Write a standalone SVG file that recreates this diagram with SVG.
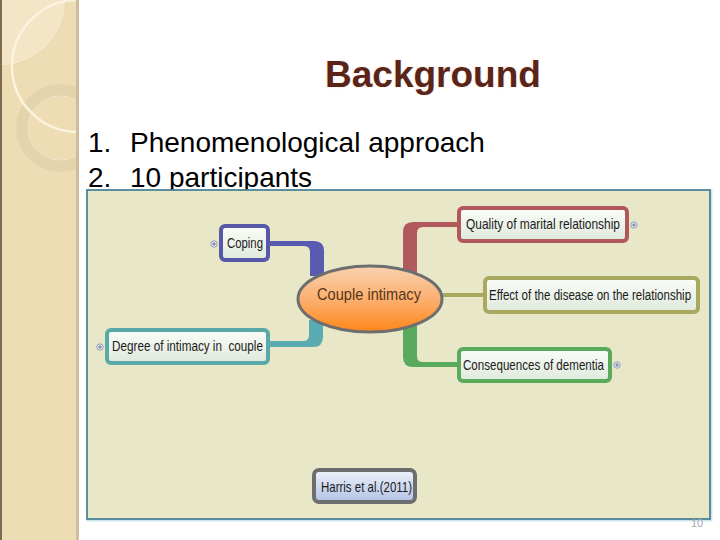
<svg xmlns="http://www.w3.org/2000/svg" width="720" height="540" viewBox="0 0 720 540">
<defs>
<style>
.lbl{font-family:"Liberation Sans",Arial,sans-serif;font-size:14.5px;fill:#1c1c1c}
.box{stroke-width:4}
.list{font-family:"Liberation Sans",Arial,sans-serif;font-size:28px;fill:#000}
.plus{fill:#eef2f6;stroke:#7888a8;stroke-width:0.8}
.plusl{stroke:#506080;stroke-width:0.8}
</style>
<linearGradient id="nodeFill" x1="0" y1="0" x2="0" y2="1">
<stop offset="0" stop-color="#fbfdf8"/>
<stop offset="1" stop-color="#dfe9dc"/>
</linearGradient>
<linearGradient id="ellFill" x1="0" y1="0" x2="0" y2="1">
<stop offset="0" stop-color="#f8d2b0"/>
<stop offset="0.5" stop-color="#fbb070"/>
<stop offset="1" stop-color="#ff8618"/>
</linearGradient>
<linearGradient id="harrisFill" x1="0" y1="0" x2="0" y2="1">
<stop offset="0" stop-color="#eef2fa"/>
<stop offset="1" stop-color="#b2c2e6"/>
</linearGradient>
<pattern id="hatch" width="4" height="4" patternUnits="userSpaceOnUse">
<path d="M0,4 L4,0 M0,0 L4,4" stroke="#d8c49a" stroke-width="0.5" opacity="0.35"/>
</pattern>
<clipPath id="stripClip"><rect x="0" y="0" width="77" height="540"/></clipPath>
</defs>

<rect x="0" y="0" width="720" height="540" fill="#ffffff"/>

<!-- decorative left strip -->
<g id="strip">
<rect x="0" y="0" width="78" height="540" fill="#f0dfb6"/>
<rect x="0" y="0" width="78" height="540" fill="url(#hatch)"/>
<g clip-path="url(#stripClip)">
<circle cx="0" cy="0" r="66" fill="#f3e5c6" stroke="#e0d0aa" stroke-width="0.6"/>
<circle cx="60" cy="128" r="38" fill="none" stroke="#e4d4ae" stroke-width="12"/>
<circle cx="60" cy="128" r="32" fill="none" stroke="#efe3c6" stroke-width="1"/>
<circle cx="78" cy="66" r="66" fill="none" stroke="#fbf3e0" stroke-width="2.5"/>
</g>
<rect x="0" y="0" width="2" height="540" fill="#7d6c52"/>
<rect x="76" y="0" width="3" height="540" fill="#cdbd9c"/>
</g>

<!-- title and list -->
<text x="325" y="87" font-family="'Liberation Sans',Arial,sans-serif" font-size="37" font-weight="bold" fill="#5a2418" stroke="#f8e6da" stroke-width="2.5" stroke-opacity="0.4" paint-order="stroke">Background</text>
<text class="list" x="88" y="152">1.</text>
<text class="list" x="130" y="152">Phenomenological approach</text>
<text class="list" x="88" y="187">2.</text>
<text class="list" x="130" y="187">10 participants</text>

<!-- picture panel -->
<rect x="88" y="191" width="623" height="329" fill="none" stroke="#cfe6ee" stroke-width="3"/>
<rect x="87" y="190" width="623" height="329" fill="#e8e8c8" stroke="#2f6f88" stroke-width="1.5"/>

<!-- connectors -->
<g id="connectors">
<path d="M268,241 L314,241 Q324,241 324,251 L324,276 L310,276 L310,252 Q310,246 304,246 L268,246 Z" fill="#5a5ab0"/>
<path d="M268,347 L313,347 Q323,347 323,337 L323,320 L309,320 L309,335 Q309,341 303,341 L268,341 Z" fill="#5aacb2"/>
<path d="M403,280 L403,232 Q403,222 413,222 L459,222 L459,227 L423,227 Q417,227 417,233 L417,280 Z" fill="#b05a5e"/>
<path d="M403,318 L403,357 Q403,367 413,367 L459,367 L459,362 L423,362 Q417,362 417,356 L417,318 Z" fill="#5aaa5e"/>
<line x1="438" y1="295" x2="485" y2="295" stroke="#a8a85e" stroke-width="4"/>
</g>

<!-- central node -->
<g id="node-center">
<ellipse cx="370" cy="299" rx="72" ry="33" fill="url(#ellFill)" stroke="#6e6e6e" stroke-width="3"/>
<text x="317" y="300" font-family="'Liberation Sans',Arial,sans-serif" font-size="17" fill="#5a3414" textLength="104" lengthAdjust="spacingAndGlyphs">Couple intimacy</text>
</g>

<g id="node-coping">
<rect class="box" x="221" y="226" width="47" height="34" rx="4" fill="url(#nodeFill)" stroke="#5858a8"/>
<text class="lbl" x="227" y="248" textLength="36" lengthAdjust="spacingAndGlyphs">Coping</text>
<circle class="plus" cx="214" cy="244" r="3.2"/>
<path class="plusl" d="M212,244 H216 M214,242 V246"/>
</g>

<g id="node-quality">
<rect class="box" x="459" y="208" width="168" height="33" rx="4" fill="url(#nodeFill)" stroke="#b0585c"/>
<text class="lbl" x="466" y="229" textLength="154" lengthAdjust="spacingAndGlyphs">Quality of marital relationship</text>
<circle class="plus" cx="634" cy="225" r="3.2"/>
<path class="plusl" d="M632,225 H636 M634,223 V227"/>
</g>

<g id="node-effect">
<rect class="box" x="485" y="278" width="213" height="34" rx="4" fill="url(#nodeFill)" stroke="#a8a85e"/>
<text class="lbl" transform="translate(489,300) scale(0.7956,1)" x="0" y="0" textLength="254" lengthAdjust="spacingAndGlyphs">Effect of the disease on the relationship</text>
</g>

<g id="node-consequences">
<rect class="box" x="459" y="349" width="151" height="32" rx="4" fill="url(#nodeFill)" stroke="#5aaa5e"/>
<text class="lbl" x="463" y="370" textLength="141" lengthAdjust="spacingAndGlyphs">Consequences of dementia</text>
<circle class="plus" cx="617" cy="365" r="3.2"/>
<path class="plusl" d="M615,365 H619 M617,363 V367"/>
</g>

<g id="node-degree">
<rect class="box" x="107" y="330" width="161" height="33" rx="4" fill="url(#nodeFill)" stroke="#5aa8a8"/>
<text class="lbl" x="112" y="351" textLength="151" lengthAdjust="spacingAndGlyphs" xml:space="preserve">Degree of intimacy in  couple</text>
<circle class="plus" cx="100" cy="347" r="3.2"/>
<path class="plusl" d="M98,347 H102 M100,345 V349"/>
</g>

<g id="node-harris">
<rect x="314" y="470" width="101" height="32" rx="5" fill="url(#harrisFill)" stroke="#6e6e6e" stroke-width="4"/>
<text class="lbl" x="321" y="492" textLength="91" lengthAdjust="spacingAndGlyphs">Harris et al.(2011)</text>
</g>

<text x="691" y="527" font-family="'Liberation Sans',Arial,sans-serif" font-size="11" fill="#a8a8a8">10</text>
</svg>
